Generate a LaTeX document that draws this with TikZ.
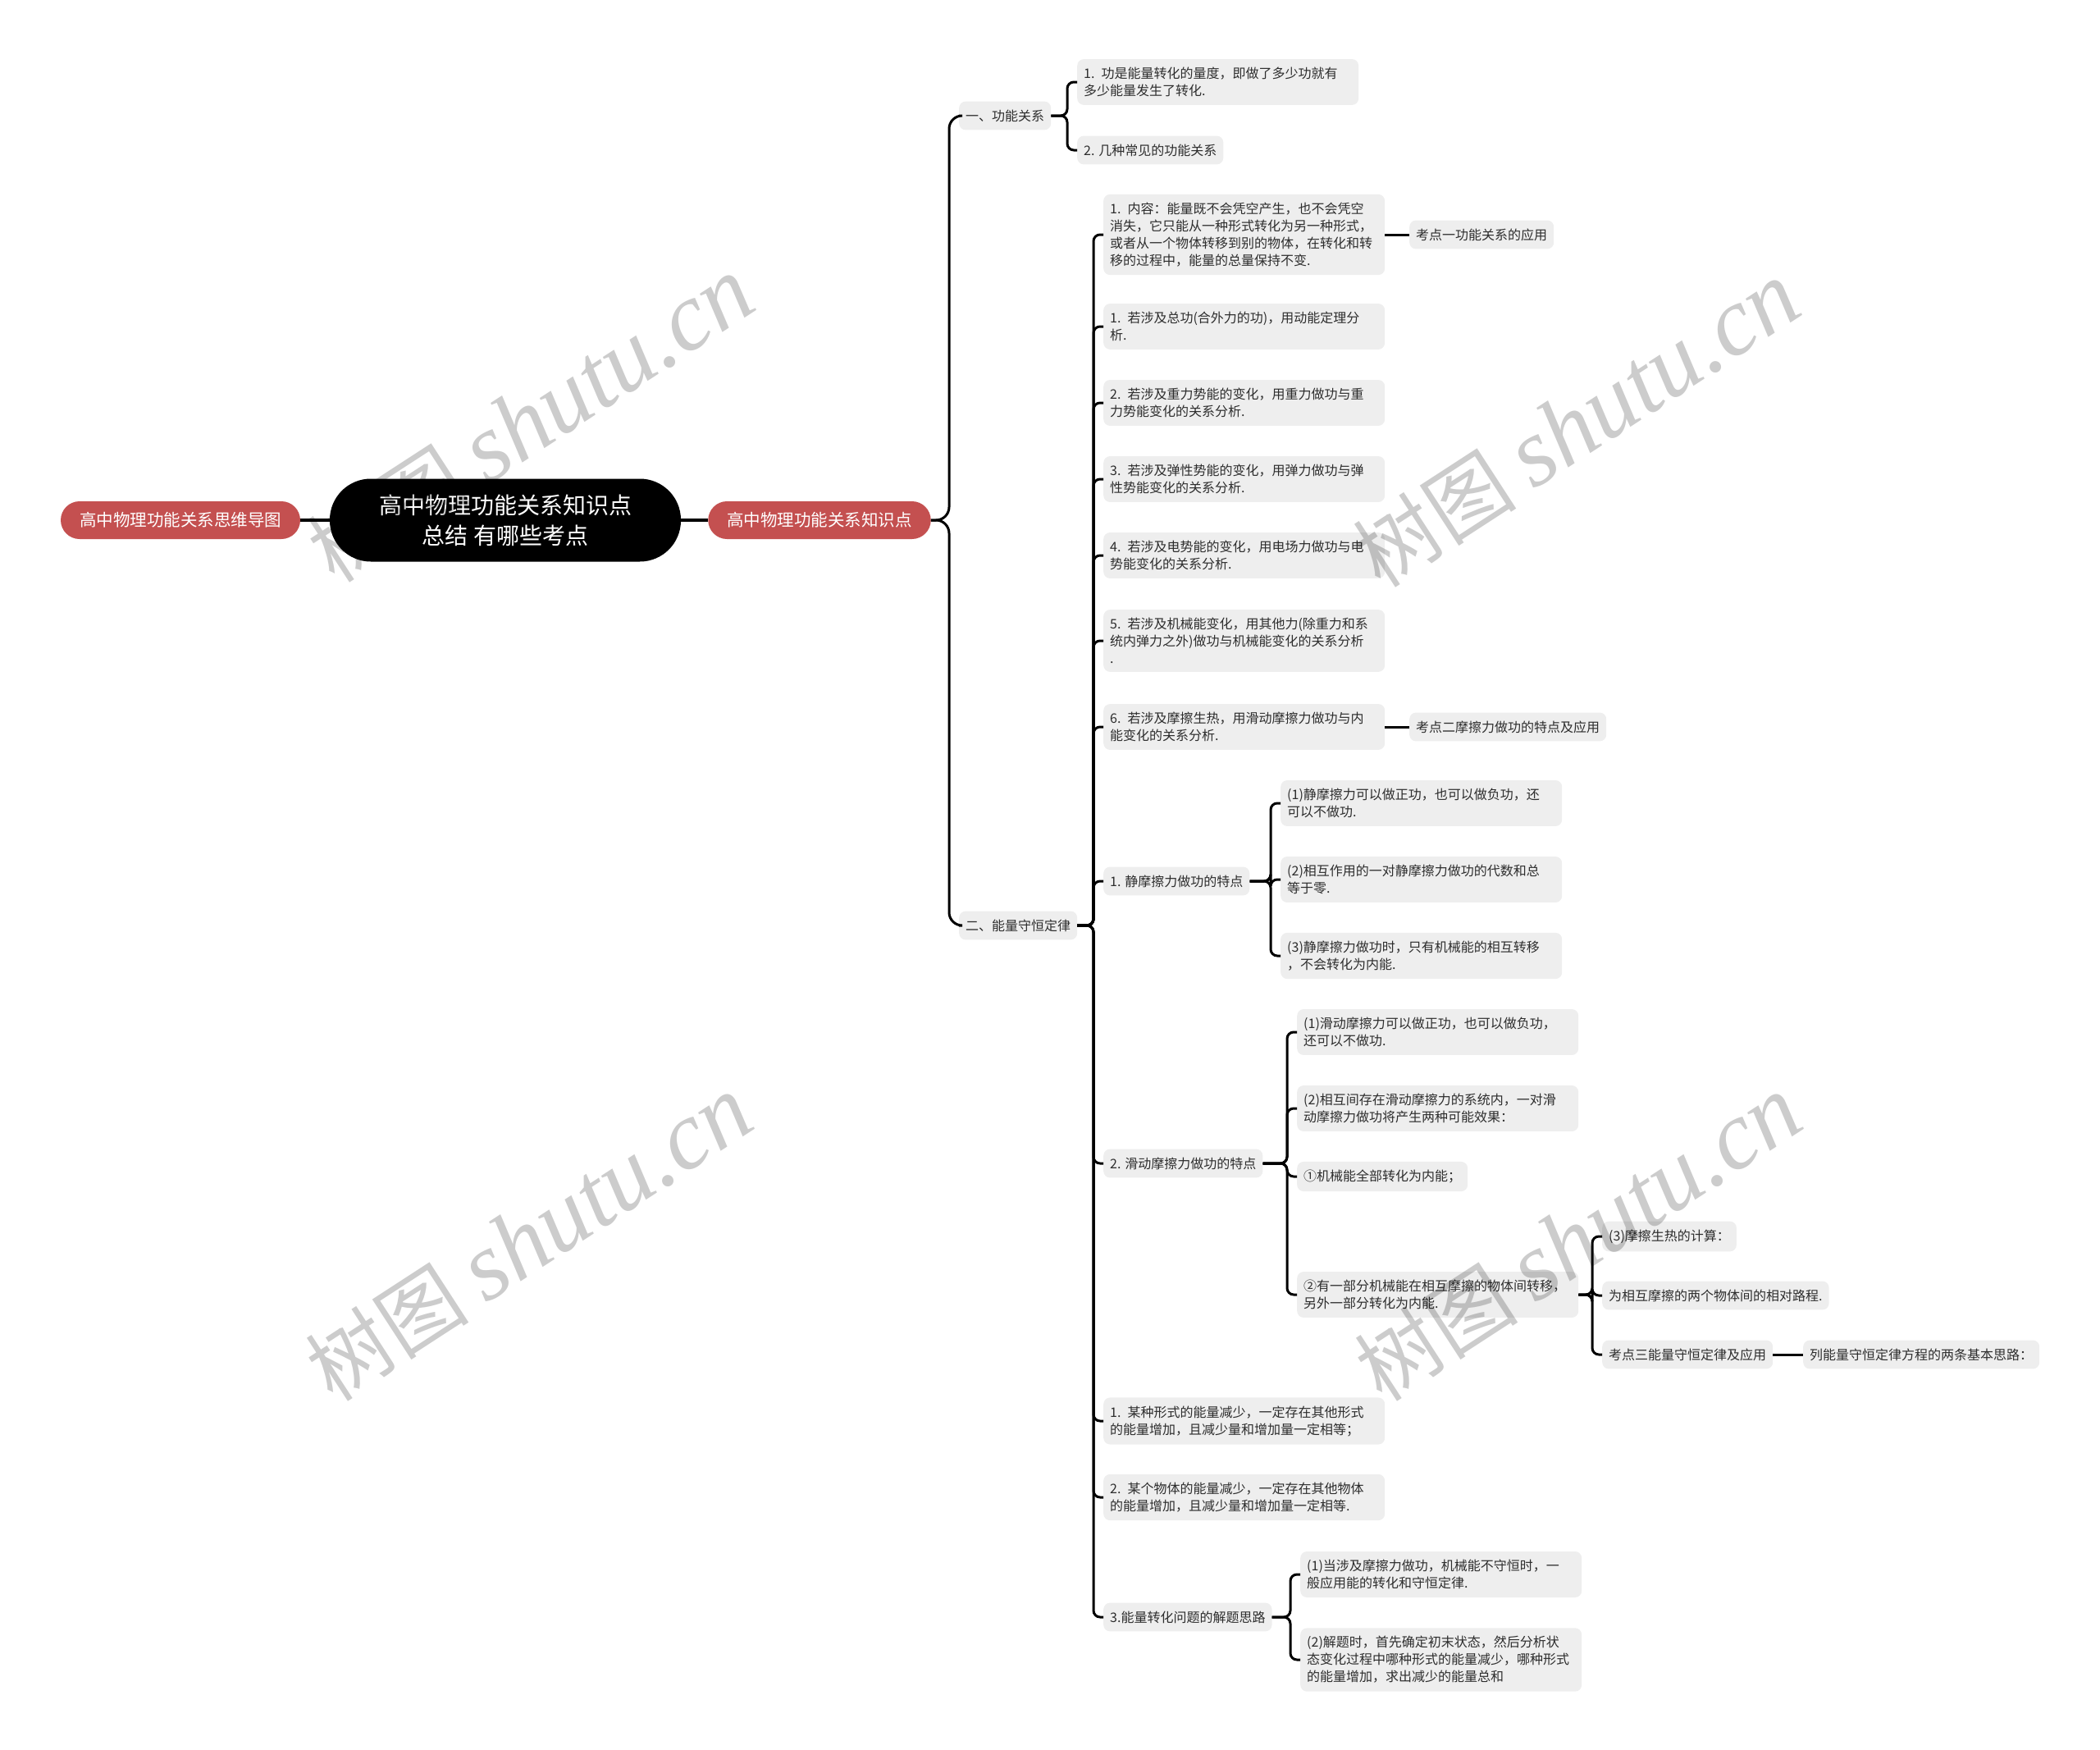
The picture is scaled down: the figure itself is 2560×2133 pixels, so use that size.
\documentclass[tikz,border=0pt]{standalone}
\usepackage{fontspec}
\setmainfont{Noto Sans CJK SC}
\newfontfamily\wmfont{Liberation Serif}
\usepackage{xcolor}
\definecolor{BranchRed}{RGB}{196,80,80}
\definecolor{LeafGray}{RGB}{238,238,238}
\definecolor{InkGray}{RGB}{45,45,45}
\usetikzlibrary{positioning}

\tikzset{
  leaf/.style={fill=LeafGray, rounded corners=8pt, text=InkGray, anchor=west,
               font=\fontsize{16}{21}\selectfont, inner xsep=8pt, inner ysep=10pt, align=left},
  wrapleaf/.style={leaf, text width=327pt},
  branch/.style={fill=BranchRed, text=white, rounded corners=23pt,
                 font=\fontsize{20.5}{25}\selectfont, inner xsep=23pt, minimum height=46pt},
  rootbox/.style={fill=black, text=white, rounded corners=50pt, align=center,
                  font=\fontsize{28}{37}\selectfont, minimum width=428pt, minimum height=101pt},
  link/.style={draw=black, line width=3pt, rounded corners=8pt},
  mainlink/.style={draw=black, line width=4.5pt},
  watermark/.style={text=black, opacity=0.2, rotate=33, font=\fontsize{100}{100}\selectfont}
}

\begin{document}
\begin{tikzpicture}[x=1pt, y=-1pt]
  \useasboundingbox (0,0) rectangle (2560,2133);

  % root and the two red branches
  \node[rootbox] (root) at (616,634) {高中物理功能关系知识点\\总结 有哪些考点};
  \node[branch] (mapname) at (220,634) {高中物理功能关系思维导图};
  \node[branch] (topic) at (999,634) {高中物理功能关系知识点};
  \draw[mainlink] (mapname) -- (root);
  \draw[mainlink] (root) -- (topic);

  % second level
  \node[leaf] (workrel) at (1169,141) {一、功能关系};
  \node[leaf] (conserve) at (1169,1128) {二、能量守恒定律};
  \foreach \c in {workrel, conserve}
    \draw[link, rounded corners=16pt] (topic.east) -| ([xshift=-12pt]\c.west) -- (\c.west);

  % under the work-energy relation
  \node[wrapleaf] (measure) at (1313,100) {1. 功是能量转化的量度，即做了多少功就有\\多少能量发生了转化.};
  \node[leaf] (common) at (1313,183) {2. 几种常见的功能关系};
  \foreach \c in {measure, common}
    \draw[link] (workrel.east) -| ([xshift=-12pt]\c.west) -- (\c.west);

  % under conservation of energy
  \node[wrapleaf] (content) at (1345,286) {1. 内容：能量既不会凭空产生，也不会凭空\\消失，它只能从一种形式转化为另一种形式，\\或者从一个物体转移到别的物体，在转化和转\\移的过程中，能量的总量保持不变.};
  \node[wrapleaf] (total) at (1345,398) {1. 若涉及总功(合外力的功)，用动能定理分\\析.};
  \node[wrapleaf] (gravity) at (1345,491) {2. 若涉及重力势能的变化，用重力做功与重\\力势能变化的关系分析.};
  \node[wrapleaf] (elastic) at (1345,584) {3. 若涉及弹性势能的变化，用弹力做功与弹\\性势能变化的关系分析.};
  \node[wrapleaf] (electric) at (1345,677) {4. 若涉及电势能的变化，用电场力做功与电\\势能变化的关系分析.};
  \node[wrapleaf] (mechanical) at (1345,781) {5. 若涉及机械能变化，用其他力(除重力和系\\统内弹力之外)做功与机械能变化的关系分析\\.};
  \node[wrapleaf] (heat) at (1345,886) {6. 若涉及摩擦生热，用滑动摩擦力做功与内\\能变化的关系分析.};
  \node[leaf] (static) at (1345,1074) {1. 静摩擦力做功的特点};
  \node[leaf] (sliding) at (1345,1418) {2. 滑动摩擦力做功的特点};
  \node[wrapleaf] (formloss) at (1345,1732) {1. 某种形式的能量减少，一定存在其他形式\\的能量增加，且减少量和增加量一定相等；};
  \node[wrapleaf] (bodyloss) at (1345,1825) {2. 某个物体的能量减少，一定存在其他物体\\的能量增加，且减少量和增加量一定相等.};
  \node[leaf] (steps) at (1345,1971) {3.能量转化问题的解题思路};
  \foreach \c in {content, total, gravity, elastic, electric, mechanical, heat,
                  static, sliding, formloss, bodyloss, steps}
    \draw[link] (conserve.east) -| ([xshift=-12pt]\c.west) -- (\c.west);

  % exam points
  \node[leaf] (kaodian1) at (1718,286) {考点一功能关系的应用};
  \node[leaf] (kaodian2) at (1718,886) {考点二摩擦力做功的特点及应用};
  \draw[link] (content) -- (kaodian1);
  \draw[link] (heat) -- (kaodian2);

  % static friction
  \node[wrapleaf] (sone) at (1561,979) {(1)静摩擦力可以做正功，也可以做负功，还\\可以不做功.};
  \node[wrapleaf] (stwo) at (1561,1072) {(2)相互作用的一对静摩擦力做功的代数和总\\等于零.};
  \node[wrapleaf] (sthree) at (1561,1165) {(3)静摩擦力做功时，只有机械能的相互转移\\，不会转化为内能.};
  \foreach \c in {sone, stwo, sthree}
    \draw[link] (static.east) -| ([xshift=-12pt]\c.west) -- (\c.west);

  % sliding friction
  \node[wrapleaf] (done) at (1581,1258) {(1)滑动摩擦力可以做正功，也可以做负功，\\还可以不做功.};
  \node[wrapleaf] (dtwo) at (1581,1351) {(2)相互间存在滑动摩擦力的系统内，一对滑\\动摩擦力做功将产生两种可能效果：};
  \node[leaf] (dfull) at (1581,1434) {①机械能全部转化为内能；};
  \node[wrapleaf] (dpart) at (1581,1578) {②有一部分机械能在相互摩擦的物体间转移，\\另外一部分转化为内能.};
  \foreach \c in {done, dtwo, dfull, dpart}
    \draw[link] (sliding.east) -| ([xshift=-12pt]\c.west) -- (\c.west);

  \node[leaf] (heatcalc) at (1953,1507) {(3)摩擦生热的计算：};
  \node[leaf] (relpath) at (1953,1579) {为相互摩擦的两个物体间的相对路程.};
  \node[leaf] (kaodian3) at (1953,1651) {考点三能量守恒定律及应用};
  \foreach \c in {heatcalc, relpath, kaodian3}
    \draw[link] (dpart.east) -| ([xshift=-12pt]\c.west) -- (\c.west);
  \node[leaf] (thinking) at (2198,1651) {列能量守恒定律方程的两条基本思路：};
  \draw[link] (kaodian3) -- (thinking);

  % solving ideas
  \node[wrapleaf] (stepone) at (1585,1919) {(1)当涉及摩擦力做功，机械能不守恒时，一\\般应用能的转化和守恒定律.};
  \node[wrapleaf] (steptwo) at (1585,2023) {(2)解题时，首先确定初末状态，然后分析状\\态变化过程中哪种形式的能量减少，哪种形式\\的能量增加，求出减少的能量总和};
  \foreach \c in {stepone, steptwo}
    \draw[link] (steps.east) -| ([xshift=-12pt]\c.west) -- (\c.west);

  % watermarks
  \foreach \wx/\wy in {647/512, 1922/518, 645/1510, 1924/1510}
    \node[watermark] at (\wx,\wy) {树图 {\wmfont\itshape\fontsize{118}{118}\selectfont shutu.cn}};
\end{tikzpicture}
\end{document}
